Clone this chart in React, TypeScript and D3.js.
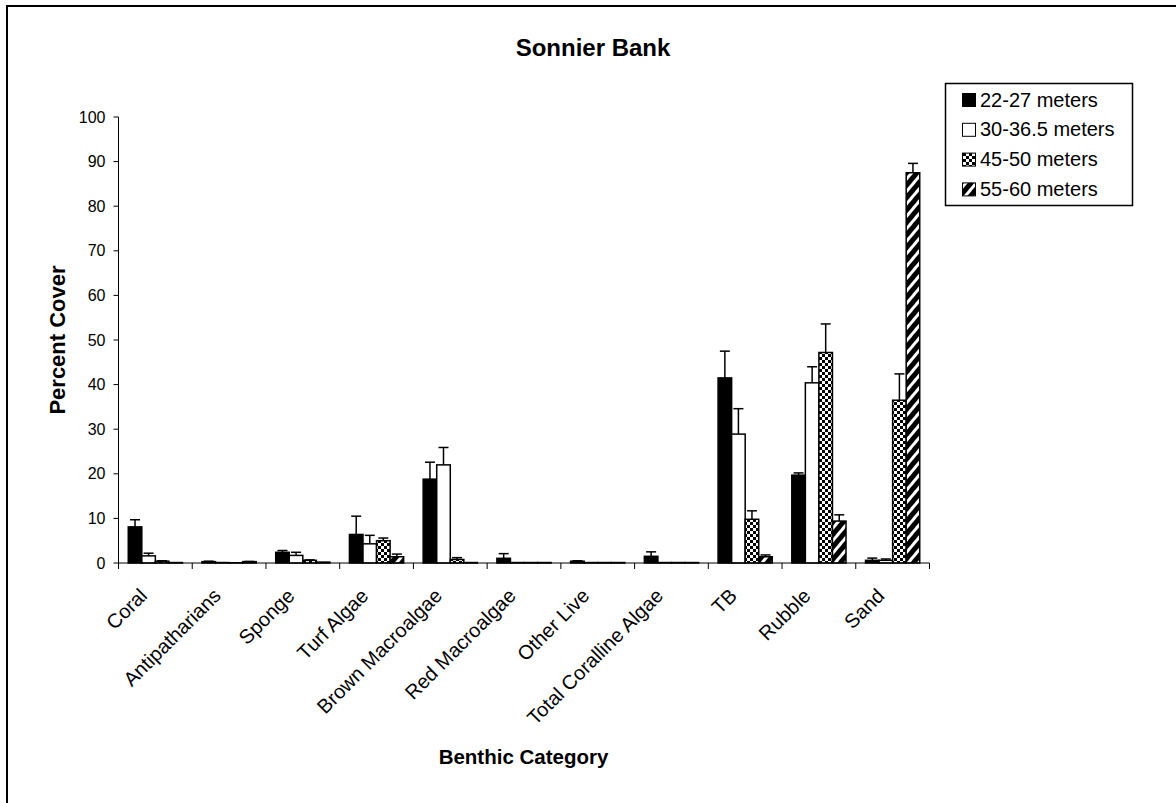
import React from "react";
import * as d3 from "d3";

const categories = [
  "Coral",
  "Antipatharians",
  "Sponge",
  "Turf Algae",
  "Brown Macroalgae",
  "Red Macroalgae",
  "Other Live",
  "Total Coralline Algae",
  "TB",
  "Rubble",
  "Sand",
];

const seriesNames = ["22-27 meters", "30-36.5 meters", "45-50 meters", "55-60 meters"];

// mean percent cover per category, one array per depth series
const depth22_27 = [8.1, 0.3, 2.4, 6.4, 18.8, 1.05, 0.4, 1.5, 41.5, 19.7, 0.6];
const depth30_36 = [1.6, 0.1, 1.7, 4.3, 22.0, 0.1, 0.1, 0.1, 28.9, 40.4, 0.6];
const depth45_50 = [0.4, 0.05, 0.6, 5.0, 0.8, 0.1, 0.1, 0.1, 9.8, 47.2, 36.5];
const depth55_60 = [0.1, 0.3, 0.2, 1.4, 0.1, 0.1, 0.1, 0.1, 1.4, 9.4, 87.5];

// standard error (upper error bar length)
const err22_27 = [1.6, 0.1, 0.4, 4.1, 3.8, 1.05, 0.1, 1.0, 6.0, 0.5, 0.5];
const err30_36 = [0.6, 0, 0.7, 1.9, 3.9, 0, 0, 0, 5.7, 3.6, 0.3];
const err45_50 = [0.1, 0, 0.1, 0.6, 0.4, 0, 0, 0, 1.9, 6.4, 5.9];
const err55_60 = [0, 0.05, 0, 0.6, 0, 0, 0, 0, 0.4, 1.4, 2.1];

const yTicks = [0, 10, 20, 30, 40, 50, 60, 70, 80, 90, 100];

const values = [depth22_27, depth30_36, depth45_50, depth55_60];
const errors = [err22_27, err30_36, err45_50, err55_60];
const fills = ["#000", "#fff", "url(#checker)", "url(#hatch)"];

const FONT = "'Liberation Sans', Arial, sans-serif";

export default function App() {
  const W = 1176;
  const H = 803;
  const x0 = 118.5;
  const x1 = 929.5;
  const yTop = 117;
  const yBot = 563;

  const x = d3.scaleBand<string>().domain(categories).range([x0, x1]).padding(0);
  const xs = d3
    .scaleBand<string>()
    .domain(seriesNames)
    .range([0, x.bandwidth()])
    .paddingInner(0)
    .paddingOuter(0.72);
  const y = d3.scaleLinear().domain([0, 100]).range([yBot, yTop]);

  const boundaries = categories.map((c) => x(c)!).concat([x1]);

  return (
    <svg
      width={W}
      height={H}
      style={{ position: "absolute", left: 0, top: 0, display: "block", background: "#fff" }}
      fontFamily={FONT}
    >
      <defs>
        <pattern id="checker" patternUnits="userSpaceOnUse" width={6} height={6}>
          <rect width={6} height={6} fill="#fff" />
          <rect x={0} y={0} width={3} height={3} fill="#000" />
          <rect x={3} y={3} width={3} height={3} fill="#000" />
        </pattern>
        <pattern
          id="hatch"
          patternUnits="userSpaceOnUse"
          width={8}
          height={8}
          patternTransform="rotate(40)"
        >
          <rect width={8} height={8} fill="#000" />
          <rect x={0} y={0} width={3} height={8} fill="#fff" />
        </pattern>
      </defs>

      <rect x={7} y={6} width={W} height={H} fill="#fff" stroke="#000" strokeWidth={2} />

      <text x={593} y={56} textAnchor="middle" fontSize={24} fontWeight="bold">
        Sonnier Bank
      </text>

      {/* bars */}
      {categories.map((c, ci) => (
        <g key={c}>
          {seriesNames.map((s, si) => {
            const v = values[si][ci];
            const e = errors[si][ci];
            const bx = x(c)! + xs(s)!;
            const bw = xs.bandwidth();
            const top = y(v);
            const cx = bx + bw / 2;
            return (
              <g key={s}>
                <rect
                  x={bx}
                  y={top}
                  width={bw}
                  height={yBot - top}
                  fill={fills[si]}
                  stroke="#000"
                  strokeWidth={1.5}
                />
                {e > 0 && (
                  <g stroke="#000" strokeWidth={1.5}>
                    <line x1={cx} x2={cx} y1={top} y2={y(v + e)} />
                    <line x1={cx - 5} x2={cx + 5} y1={y(v + e)} y2={y(v + e)} />
                  </g>
                )}
              </g>
            );
          })}
        </g>
      ))}

      {/* y axis */}
      <line x1={x0} x2={x0} y1={yTop} y2={yBot} stroke="#000" strokeWidth={1} />
      {yTicks.map((t) => (
        <g key={t}>
          <line x1={x0 - 5} x2={x0} y1={y(t)} y2={y(t)} stroke="#000" strokeWidth={1} />
          <text x={x0 - 13} y={y(t) + 5.5} textAnchor="end" fontSize={16}>
            {t}
          </text>
        </g>
      ))}

      {/* x axis */}
      <line x1={x0} x2={x1} y1={yBot} y2={yBot} stroke="#000" strokeWidth={1} />
      {boundaries.map((b, i) => (
        <line key={i} x1={b} x2={b} y1={yBot} y2={yBot + 6} stroke="#000" strokeWidth={1} />
      ))}
      {categories.map((c) => {
        const px = x(c)! + x.bandwidth() / 2 - 7;
        const py = 597;
        return (
          <text
            key={c}
            x={px}
            y={py}
            textAnchor="end"
            fontSize={20}
            transform={`rotate(-45 ${px} ${py})`}
          >
            {c}
          </text>
        );
      })}

      <text
        x={0}
        y={0}
        transform={`translate(65 ${(yTop + yBot) / 2}) rotate(-90)`}
        textAnchor="middle"
        fontSize={22}
        fontWeight="bold"
      >
        Percent Cover
      </text>
      <text x={523.5} y={764} textAnchor="middle" fontSize={20.5} fontWeight="bold">
        Benthic Category
      </text>

      {/* legend */}
      <rect x={945.5} y={83.5} width={187} height={122} fill="#fff" stroke="#000" strokeWidth={1.5} />
      {seriesNames.map((s, i) => {
        const base = 106.5 + i * 29.8;
        return (
          <g key={s}>
            <rect x={962.5} y={base - 13} width={13} height={13} fill={fills[i]} stroke="#000" strokeWidth={1} />
            <text x={980} y={base} fontSize={20}>
              {s}
            </text>
          </g>
        );
      })}
    </svg>
  );
}
